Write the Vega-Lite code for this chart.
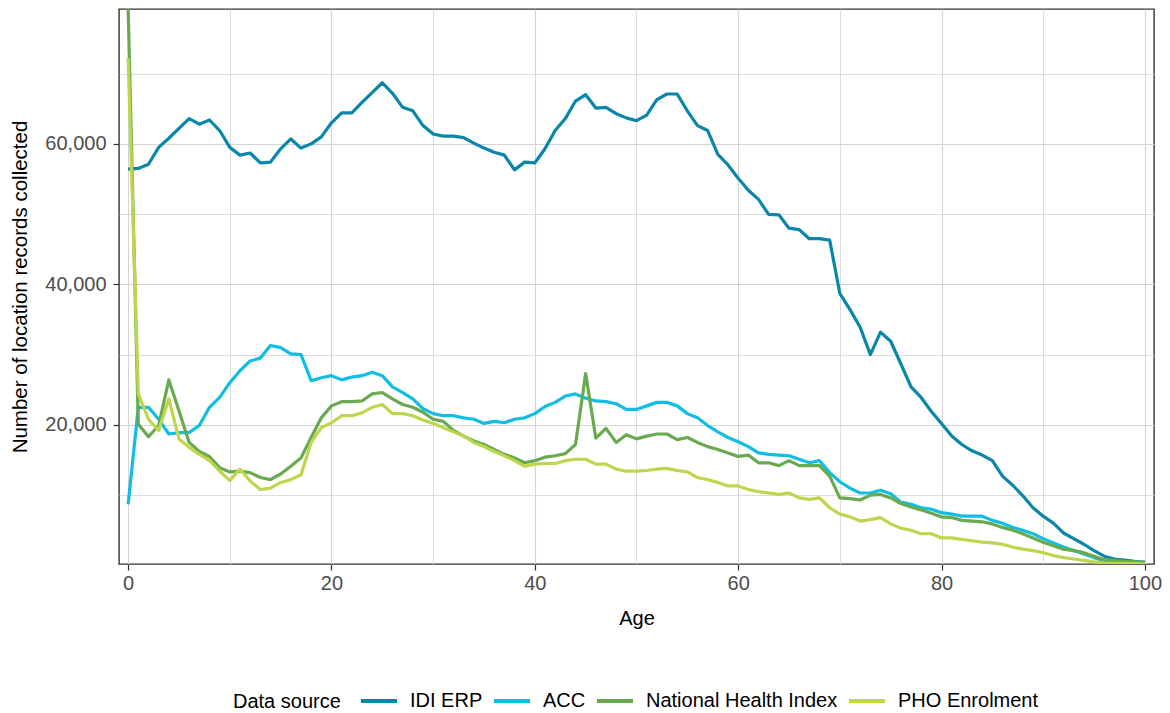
{
"$schema": "https://vega.github.io/schema/vega-lite/v6.json",
"width": 1035, "height": 555,
"autosize": {"type": "none"},
"padding": {"left": 119, "top": 9, "right": 16, "bottom": 149},
"background": "white",
"config": {
  "font": "Liberation Sans",
  "view": {"stroke": "#333333", "strokeWidth": 1.4},
  "axis": {"domain": false, "labelColor": "#4D4D4D", "labelFontSize": 20, "titleFontSize": 20, "titleFontWeight": "normal", "titleColor": "#000000", "tickColor": "#333333", "tickWidth": 1.2, "tickSize": 6, "gridColor": "#D4D4D4", "labelOverlap": false, "labelFlush": false}
},
"data": {"values": [
{"age":0,"source":"IDI ERP","records":56400},{"age":1,"source":"IDI ERP","records":56500},{"age":2,"source":"IDI ERP","records":57100},{"age":3,"source":"IDI ERP","records":59500},{"age":4,"source":"IDI ERP","records":60800},{"age":5,"source":"IDI ERP","records":62200},{"age":6,"source":"IDI ERP","records":63600},{"age":7,"source":"IDI ERP","records":62800},{"age":8,"source":"IDI ERP","records":63400},{"age":9,"source":"IDI ERP","records":61900},{"age":10,"source":"IDI ERP","records":59500},{"age":11,"source":"IDI ERP","records":58400},{"age":12,"source":"IDI ERP","records":58700},{"age":13,"source":"IDI ERP","records":57300},{"age":14,"source":"IDI ERP","records":57400},{"age":15,"source":"IDI ERP","records":59300},{"age":16,"source":"IDI ERP","records":60700},{"age":17,"source":"IDI ERP","records":59400},{"age":18,"source":"IDI ERP","records":60000},{"age":19,"source":"IDI ERP","records":61000},{"age":20,"source":"IDI ERP","records":63000},{"age":21,"source":"IDI ERP","records":64400},{"age":22,"source":"IDI ERP","records":64400},{"age":23,"source":"IDI ERP","records":65900},{"age":24,"source":"IDI ERP","records":67300},{"age":25,"source":"IDI ERP","records":68700},{"age":26,"source":"IDI ERP","records":67200},{"age":27,"source":"IDI ERP","records":65200},{"age":28,"source":"IDI ERP","records":64700},{"age":29,"source":"IDI ERP","records":62600},{"age":30,"source":"IDI ERP","records":61400},{"age":31,"source":"IDI ERP","records":61100},{"age":32,"source":"IDI ERP","records":61100},{"age":33,"source":"IDI ERP","records":60900},{"age":34,"source":"IDI ERP","records":60100},{"age":35,"source":"IDI ERP","records":59400},{"age":36,"source":"IDI ERP","records":58800},{"age":37,"source":"IDI ERP","records":58400},{"age":38,"source":"IDI ERP","records":56300},{"age":39,"source":"IDI ERP","records":57400},{"age":40,"source":"IDI ERP","records":57300},{"age":41,"source":"IDI ERP","records":59300},{"age":42,"source":"IDI ERP","records":61900},{"age":43,"source":"IDI ERP","records":63600},{"age":44,"source":"IDI ERP","records":66100},{"age":45,"source":"IDI ERP","records":67000},{"age":46,"source":"IDI ERP","records":65100},{"age":47,"source":"IDI ERP","records":65200},{"age":48,"source":"IDI ERP","records":64300},{"age":49,"source":"IDI ERP","records":63700},{"age":50,"source":"IDI ERP","records":63300},{"age":51,"source":"IDI ERP","records":64100},{"age":52,"source":"IDI ERP","records":66300},{"age":53,"source":"IDI ERP","records":67100},{"age":54,"source":"IDI ERP","records":67100},{"age":55,"source":"IDI ERP","records":64700},{"age":56,"source":"IDI ERP","records":62600},{"age":57,"source":"IDI ERP","records":61900},{"age":58,"source":"IDI ERP","records":58500},{"age":59,"source":"IDI ERP","records":57000},{"age":60,"source":"IDI ERP","records":55100},{"age":61,"source":"IDI ERP","records":53400},{"age":62,"source":"IDI ERP","records":52100},{"age":63,"source":"IDI ERP","records":49950},{"age":64,"source":"IDI ERP","records":49900},{"age":65,"source":"IDI ERP","records":48000},{"age":66,"source":"IDI ERP","records":47800},{"age":67,"source":"IDI ERP","records":46500},{"age":68,"source":"IDI ERP","records":46500},{"age":69,"source":"IDI ERP","records":46300},{"age":70,"source":"IDI ERP","records":38700},{"age":71,"source":"IDI ERP","records":36400},{"age":72,"source":"IDI ERP","records":33900},{"age":73,"source":"IDI ERP","records":30000},{"age":74,"source":"IDI ERP","records":33200},{"age":75,"source":"IDI ERP","records":31900},{"age":76,"source":"IDI ERP","records":28700},{"age":77,"source":"IDI ERP","records":25400},{"age":78,"source":"IDI ERP","records":23900},{"age":79,"source":"IDI ERP","records":21900},{"age":80,"source":"IDI ERP","records":20200},{"age":81,"source":"IDI ERP","records":18400},{"age":82,"source":"IDI ERP","records":17200},{"age":83,"source":"IDI ERP","records":16300},{"age":84,"source":"IDI ERP","records":15700},{"age":85,"source":"IDI ERP","records":14900},{"age":86,"source":"IDI ERP","records":12700},{"age":87,"source":"IDI ERP","records":11400},{"age":88,"source":"IDI ERP","records":9900},{"age":89,"source":"IDI ERP","records":8200},{"age":90,"source":"IDI ERP","records":7000},{"age":91,"source":"IDI ERP","records":6000},{"age":92,"source":"IDI ERP","records":4600},{"age":93,"source":"IDI ERP","records":3800},{"age":94,"source":"IDI ERP","records":3000},{"age":95,"source":"IDI ERP","records":2100},{"age":96,"source":"IDI ERP","records":1300},{"age":97,"source":"IDI ERP","records":900},{"age":98,"source":"IDI ERP","records":760},{"age":99,"source":"IDI ERP","records":570},{"age":100,"source":"IDI ERP","records":430},
{"age":0,"source":"ACC","records":8700},{"age":1,"source":"ACC","records":22500},{"age":2,"source":"ACC","records":22500},{"age":3,"source":"ACC","records":20800},{"age":4,"source":"ACC","records":18700},{"age":5,"source":"ACC","records":18900},{"age":6,"source":"ACC","records":18900},{"age":7,"source":"ACC","records":19900},{"age":8,"source":"ACC","records":22500},{"age":9,"source":"ACC","records":23900},{"age":10,"source":"ACC","records":26000},{"age":11,"source":"ACC","records":27700},{"age":12,"source":"ACC","records":29100},{"age":13,"source":"ACC","records":29500},{"age":14,"source":"ACC","records":31300},{"age":15,"source":"ACC","records":31000},{"age":16,"source":"ACC","records":30100},{"age":17,"source":"ACC","records":30000},{"age":18,"source":"ACC","records":26300},{"age":19,"source":"ACC","records":26700},{"age":20,"source":"ACC","records":27000},{"age":21,"source":"ACC","records":26400},{"age":22,"source":"ACC","records":26800},{"age":23,"source":"ACC","records":27000},{"age":24,"source":"ACC","records":27500},{"age":25,"source":"ACC","records":27000},{"age":26,"source":"ACC","records":25400},{"age":27,"source":"ACC","records":24600},{"age":28,"source":"ACC","records":23700},{"age":29,"source":"ACC","records":22300},{"age":30,"source":"ACC","records":21600},{"age":31,"source":"ACC","records":21300},{"age":32,"source":"ACC","records":21300},{"age":33,"source":"ACC","records":21000},{"age":34,"source":"ACC","records":20800},{"age":35,"source":"ACC","records":20200},{"age":36,"source":"ACC","records":20500},{"age":37,"source":"ACC","records":20300},{"age":38,"source":"ACC","records":20800},{"age":39,"source":"ACC","records":21000},{"age":40,"source":"ACC","records":21600},{"age":41,"source":"ACC","records":22600},{"age":42,"source":"ACC","records":23200},{"age":43,"source":"ACC","records":24100},{"age":44,"source":"ACC","records":24400},{"age":45,"source":"ACC","records":23800},{"age":46,"source":"ACC","records":23400},{"age":47,"source":"ACC","records":23300},{"age":48,"source":"ACC","records":23000},{"age":49,"source":"ACC","records":22200},{"age":50,"source":"ACC","records":22200},{"age":51,"source":"ACC","records":22700},{"age":52,"source":"ACC","records":23200},{"age":53,"source":"ACC","records":23200},{"age":54,"source":"ACC","records":22700},{"age":55,"source":"ACC","records":21600},{"age":56,"source":"ACC","records":21000},{"age":57,"source":"ACC","records":19900},{"age":58,"source":"ACC","records":19000},{"age":59,"source":"ACC","records":18200},{"age":60,"source":"ACC","records":17600},{"age":61,"source":"ACC","records":16900},{"age":62,"source":"ACC","records":16000},{"age":63,"source":"ACC","records":15800},{"age":64,"source":"ACC","records":15700},{"age":65,"source":"ACC","records":15600},{"age":66,"source":"ACC","records":15100},{"age":67,"source":"ACC","records":14600},{"age":68,"source":"ACC","records":14900},{"age":69,"source":"ACC","records":13200},{"age":70,"source":"ACC","records":11900},{"age":71,"source":"ACC","records":11000},{"age":72,"source":"ACC","records":10300},{"age":73,"source":"ACC","records":10300},{"age":74,"source":"ACC","records":10700},{"age":75,"source":"ACC","records":10200},{"age":76,"source":"ACC","records":9000},{"age":77,"source":"ACC","records":8700},{"age":78,"source":"ACC","records":8200},{"age":79,"source":"ACC","records":8000},{"age":80,"source":"ACC","records":7500},{"age":81,"source":"ACC","records":7300},{"age":82,"source":"ACC","records":7000},{"age":83,"source":"ACC","records":7000},{"age":84,"source":"ACC","records":7000},{"age":85,"source":"ACC","records":6400},{"age":86,"source":"ACC","records":6000},{"age":87,"source":"ACC","records":5400},{"age":88,"source":"ACC","records":5000},{"age":89,"source":"ACC","records":4500},{"age":90,"source":"ACC","records":3800},{"age":91,"source":"ACC","records":3200},{"age":92,"source":"ACC","records":2600},{"age":93,"source":"ACC","records":2100},{"age":94,"source":"ACC","records":1600},{"age":95,"source":"ACC","records":1100},{"age":96,"source":"ACC","records":670},{"age":97,"source":"ACC","records":570},{"age":98,"source":"ACC","records":520},{"age":99,"source":"ACC","records":480},{"age":100,"source":"ACC","records":430},
{"age":0,"source":"National Health Index","records":79200},{"age":1,"source":"National Health Index","records":20100},{"age":2,"source":"National Health Index","records":18300},{"age":3,"source":"National Health Index","records":19900},{"age":4,"source":"National Health Index","records":26400},{"age":5,"source":"National Health Index","records":22000},{"age":6,"source":"National Health Index","records":17500},{"age":7,"source":"National Health Index","records":16200},{"age":8,"source":"National Health Index","records":15500},{"age":9,"source":"National Health Index","records":13900},{"age":10,"source":"National Health Index","records":13300},{"age":11,"source":"National Health Index","records":13400},{"age":12,"source":"National Health Index","records":13200},{"age":13,"source":"National Health Index","records":12500},{"age":14,"source":"National Health Index","records":12200},{"age":15,"source":"National Health Index","records":13000},{"age":16,"source":"National Health Index","records":14100},{"age":17,"source":"National Health Index","records":15300},{"age":18,"source":"National Health Index","records":18200},{"age":19,"source":"National Health Index","records":21000},{"age":20,"source":"National Health Index","records":22700},{"age":21,"source":"National Health Index","records":23300},{"age":22,"source":"National Health Index","records":23300},{"age":23,"source":"National Health Index","records":23400},{"age":24,"source":"National Health Index","records":24400},{"age":25,"source":"National Health Index","records":24600},{"age":26,"source":"National Health Index","records":23700},{"age":27,"source":"National Health Index","records":22900},{"age":28,"source":"National Health Index","records":22500},{"age":29,"source":"National Health Index","records":21800},{"age":30,"source":"National Health Index","records":20800},{"age":31,"source":"National Health Index","records":20500},{"age":32,"source":"National Health Index","records":19200},{"age":33,"source":"National Health Index","records":18400},{"age":34,"source":"National Health Index","records":17700},{"age":35,"source":"National Health Index","records":17200},{"age":36,"source":"National Health Index","records":16500},{"age":37,"source":"National Health Index","records":15800},{"age":38,"source":"National Health Index","records":15300},{"age":39,"source":"National Health Index","records":14600},{"age":40,"source":"National Health Index","records":14900},{"age":41,"source":"National Health Index","records":15400},{"age":42,"source":"National Health Index","records":15600},{"age":43,"source":"National Health Index","records":15900},{"age":44,"source":"National Health Index","records":17200},{"age":45,"source":"National Health Index","records":27300},{"age":46,"source":"National Health Index","records":18100},{"age":47,"source":"National Health Index","records":19500},{"age":48,"source":"National Health Index","records":17500},{"age":49,"source":"National Health Index","records":18600},{"age":50,"source":"National Health Index","records":18000},{"age":51,"source":"National Health Index","records":18400},{"age":52,"source":"National Health Index","records":18700},{"age":53,"source":"National Health Index","records":18700},{"age":54,"source":"National Health Index","records":17900},{"age":55,"source":"National Health Index","records":18200},{"age":56,"source":"National Health Index","records":17500},{"age":57,"source":"National Health Index","records":16900},{"age":58,"source":"National Health Index","records":16500},{"age":59,"source":"National Health Index","records":16000},{"age":60,"source":"National Health Index","records":15500},{"age":61,"source":"National Health Index","records":15700},{"age":62,"source":"National Health Index","records":14600},{"age":63,"source":"National Health Index","records":14600},{"age":64,"source":"National Health Index","records":14200},{"age":65,"source":"National Health Index","records":14900},{"age":66,"source":"National Health Index","records":14200},{"age":67,"source":"National Health Index","records":14200},{"age":68,"source":"National Health Index","records":14200},{"age":69,"source":"National Health Index","records":12700},{"age":70,"source":"National Health Index","records":9600},{"age":71,"source":"National Health Index","records":9500},{"age":72,"source":"National Health Index","records":9300},{"age":73,"source":"National Health Index","records":10000},{"age":74,"source":"National Health Index","records":10100},{"age":75,"source":"National Health Index","records":9600},{"age":76,"source":"National Health Index","records":8800},{"age":77,"source":"National Health Index","records":8300},{"age":78,"source":"National Health Index","records":7900},{"age":79,"source":"National Health Index","records":7400},{"age":80,"source":"National Health Index","records":6900},{"age":81,"source":"National Health Index","records":6800},{"age":82,"source":"National Health Index","records":6400},{"age":83,"source":"National Health Index","records":6300},{"age":84,"source":"National Health Index","records":6200},{"age":85,"source":"National Health Index","records":5900},{"age":86,"source":"National Health Index","records":5400},{"age":87,"source":"National Health Index","records":5000},{"age":88,"source":"National Health Index","records":4500},{"age":89,"source":"National Health Index","records":3900},{"age":90,"source":"National Health Index","records":3300},{"age":91,"source":"National Health Index","records":2800},{"age":92,"source":"National Health Index","records":2300},{"age":93,"source":"National Health Index","records":2100},{"age":94,"source":"National Health Index","records":1800},{"age":95,"source":"National Health Index","records":1300},{"age":96,"source":"National Health Index","records":800},{"age":97,"source":"National Health Index","records":670},{"age":98,"source":"National Health Index","records":570},{"age":99,"source":"National Health Index","records":480},{"age":100,"source":"National Health Index","records":430},
{"age":0,"source":"PHO Enrolment","records":72200},{"age":1,"source":"PHO Enrolment","records":24400},{"age":2,"source":"PHO Enrolment","records":20800},{"age":3,"source":"PHO Enrolment","records":19200},{"age":4,"source":"PHO Enrolment","records":23700},{"age":5,"source":"PHO Enrolment","records":18000},{"age":6,"source":"PHO Enrolment","records":16800},{"age":7,"source":"PHO Enrolment","records":15800},{"age":8,"source":"PHO Enrolment","records":14900},{"age":9,"source":"PHO Enrolment","records":13400},{"age":10,"source":"PHO Enrolment","records":12100},{"age":11,"source":"PHO Enrolment","records":13700},{"age":12,"source":"PHO Enrolment","records":12000},{"age":13,"source":"PHO Enrolment","records":10800},{"age":14,"source":"PHO Enrolment","records":11000},{"age":15,"source":"PHO Enrolment","records":11800},{"age":16,"source":"PHO Enrolment","records":12200},{"age":17,"source":"PHO Enrolment","records":12900},{"age":18,"source":"PHO Enrolment","records":17500},{"age":19,"source":"PHO Enrolment","records":19600},{"age":20,"source":"PHO Enrolment","records":20300},{"age":21,"source":"PHO Enrolment","records":21300},{"age":22,"source":"PHO Enrolment","records":21300},{"age":23,"source":"PHO Enrolment","records":21700},{"age":24,"source":"PHO Enrolment","records":22500},{"age":25,"source":"PHO Enrolment","records":22900},{"age":26,"source":"PHO Enrolment","records":21600},{"age":27,"source":"PHO Enrolment","records":21600},{"age":28,"source":"PHO Enrolment","records":21300},{"age":29,"source":"PHO Enrolment","records":20700},{"age":30,"source":"PHO Enrolment","records":20200},{"age":31,"source":"PHO Enrolment","records":19600},{"age":32,"source":"PHO Enrolment","records":19000},{"age":33,"source":"PHO Enrolment","records":18400},{"age":34,"source":"PHO Enrolment","records":17500},{"age":35,"source":"PHO Enrolment","records":16900},{"age":36,"source":"PHO Enrolment","records":16200},{"age":37,"source":"PHO Enrolment","records":15600},{"age":38,"source":"PHO Enrolment","records":14900},{"age":39,"source":"PHO Enrolment","records":14100},{"age":40,"source":"PHO Enrolment","records":14400},{"age":41,"source":"PHO Enrolment","records":14500},{"age":42,"source":"PHO Enrolment","records":14500},{"age":43,"source":"PHO Enrolment","records":14900},{"age":44,"source":"PHO Enrolment","records":15100},{"age":45,"source":"PHO Enrolment","records":15100},{"age":46,"source":"PHO Enrolment","records":14400},{"age":47,"source":"PHO Enrolment","records":14400},{"age":48,"source":"PHO Enrolment","records":13700},{"age":49,"source":"PHO Enrolment","records":13400},{"age":50,"source":"PHO Enrolment","records":13400},{"age":51,"source":"PHO Enrolment","records":13500},{"age":52,"source":"PHO Enrolment","records":13700},{"age":53,"source":"PHO Enrolment","records":13800},{"age":54,"source":"PHO Enrolment","records":13500},{"age":55,"source":"PHO Enrolment","records":13300},{"age":56,"source":"PHO Enrolment","records":12500},{"age":57,"source":"PHO Enrolment","records":12200},{"age":58,"source":"PHO Enrolment","records":11800},{"age":59,"source":"PHO Enrolment","records":11300},{"age":60,"source":"PHO Enrolment","records":11300},{"age":61,"source":"PHO Enrolment","records":10800},{"age":62,"source":"PHO Enrolment","records":10500},{"age":63,"source":"PHO Enrolment","records":10300},{"age":64,"source":"PHO Enrolment","records":10100},{"age":65,"source":"PHO Enrolment","records":10300},{"age":66,"source":"PHO Enrolment","records":9600},{"age":67,"source":"PHO Enrolment","records":9400},{"age":68,"source":"PHO Enrolment","records":9600},{"age":69,"source":"PHO Enrolment","records":8200},{"age":70,"source":"PHO Enrolment","records":7300},{"age":71,"source":"PHO Enrolment","records":6900},{"age":72,"source":"PHO Enrolment","records":6300},{"age":73,"source":"PHO Enrolment","records":6500},{"age":74,"source":"PHO Enrolment","records":6800},{"age":75,"source":"PHO Enrolment","records":5900},{"age":76,"source":"PHO Enrolment","records":5300},{"age":77,"source":"PHO Enrolment","records":5000},{"age":78,"source":"PHO Enrolment","records":4500},{"age":79,"source":"PHO Enrolment","records":4500},{"age":80,"source":"PHO Enrolment","records":3900},{"age":81,"source":"PHO Enrolment","records":3900},{"age":82,"source":"PHO Enrolment","records":3700},{"age":83,"source":"PHO Enrolment","records":3500},{"age":84,"source":"PHO Enrolment","records":3300},{"age":85,"source":"PHO Enrolment","records":3200},{"age":86,"source":"PHO Enrolment","records":3000},{"age":87,"source":"PHO Enrolment","records":2600},{"age":88,"source":"PHO Enrolment","records":2300},{"age":89,"source":"PHO Enrolment","records":2100},{"age":90,"source":"PHO Enrolment","records":1800},{"age":91,"source":"PHO Enrolment","records":1400},{"age":92,"source":"PHO Enrolment","records":1100},{"age":93,"source":"PHO Enrolment","records":900},{"age":94,"source":"PHO Enrolment","records":700},{"age":95,"source":"PHO Enrolment","records":480},{"age":96,"source":"PHO Enrolment","records":330},{"age":97,"source":"PHO Enrolment","records":290},{"age":98,"source":"PHO Enrolment","records":240},{"age":99,"source":"PHO Enrolment","records":240},{"age":100,"source":"PHO Enrolment","records":190}
]},
"mark": {"type": "line", "strokeWidth": 3.2, "clip": true, "strokeJoin": "round"},
"encoding": {
  "x": {"field": "age", "type": "quantitative",
    "scale": {"domain": [-0.9, 100.9], "nice": false, "zero": false},
    "axis": {"title": "Age", "values": [0,10,20,30,40,50,60,70,80,90,100],
      "labelExpr": "datum.value % 20 === 0 ? datum.label : ''",
      "tickOpacity": {"condition": {"test": "datum.value % 20 !== 0", "value": 0}, "value": 1},
      "gridWidth": {"condition": {"test": "datum.value % 20 !== 0", "value": 0.8}, "value": 1.1},
      "labelPadding": 3, "titlePadding": 15}},
  "y": {"field": "records", "type": "quantitative",
    "scale": {"domain": [190, 79200], "nice": false, "zero": false},
    "axis": {"title": "Number of location records collected", "titleFontSize": 20.5,
      "values": [10000,20000,30000,40000,50000,60000,70000],
      "labelExpr": "datum.value % 20000 === 0 ? format(datum.value, ',') : ''",
      "tickOpacity": {"condition": {"test": "datum.value % 20000 !== 0", "value": 0}, "value": 1},
      "gridWidth": {"condition": {"test": "datum.value % 20000 !== 0", "value": 0.8}, "value": 1.1},
      "labelPadding": 7, "titlePadding": 14}},
  "color": {"field": "source", "type": "nominal", "sort": null,
    "scale": {"domain": ["IDI ERP", "ACC", "National Health Index", "PHO Enrolment"],
              "range": ["#0986A9", "#10BDE5", "#69A94F", "#BDD64C"]},
    "legend": {"title": "Data source", "orient": "none", "legendX": 114, "legendY": 672,
      "direction": "horizontal", "titleOrient": "left", "titleFontSize": 20, "titleFontWeight": "normal",
      "titleColor": "#000000", "titlePadding": 18, "titleAnchor": "middle", "titleBaseline": "line-top", "titleLineHeight": 12,
      "labelFontSize": 20, "labelColor": "#000000", "labelOffset": 11, "columnPadding": 3, "labelLimit": 400,
      "symbolType": "stroke", "symbolSize": 1296, "symbolStrokeWidth": 4}}
}
}
